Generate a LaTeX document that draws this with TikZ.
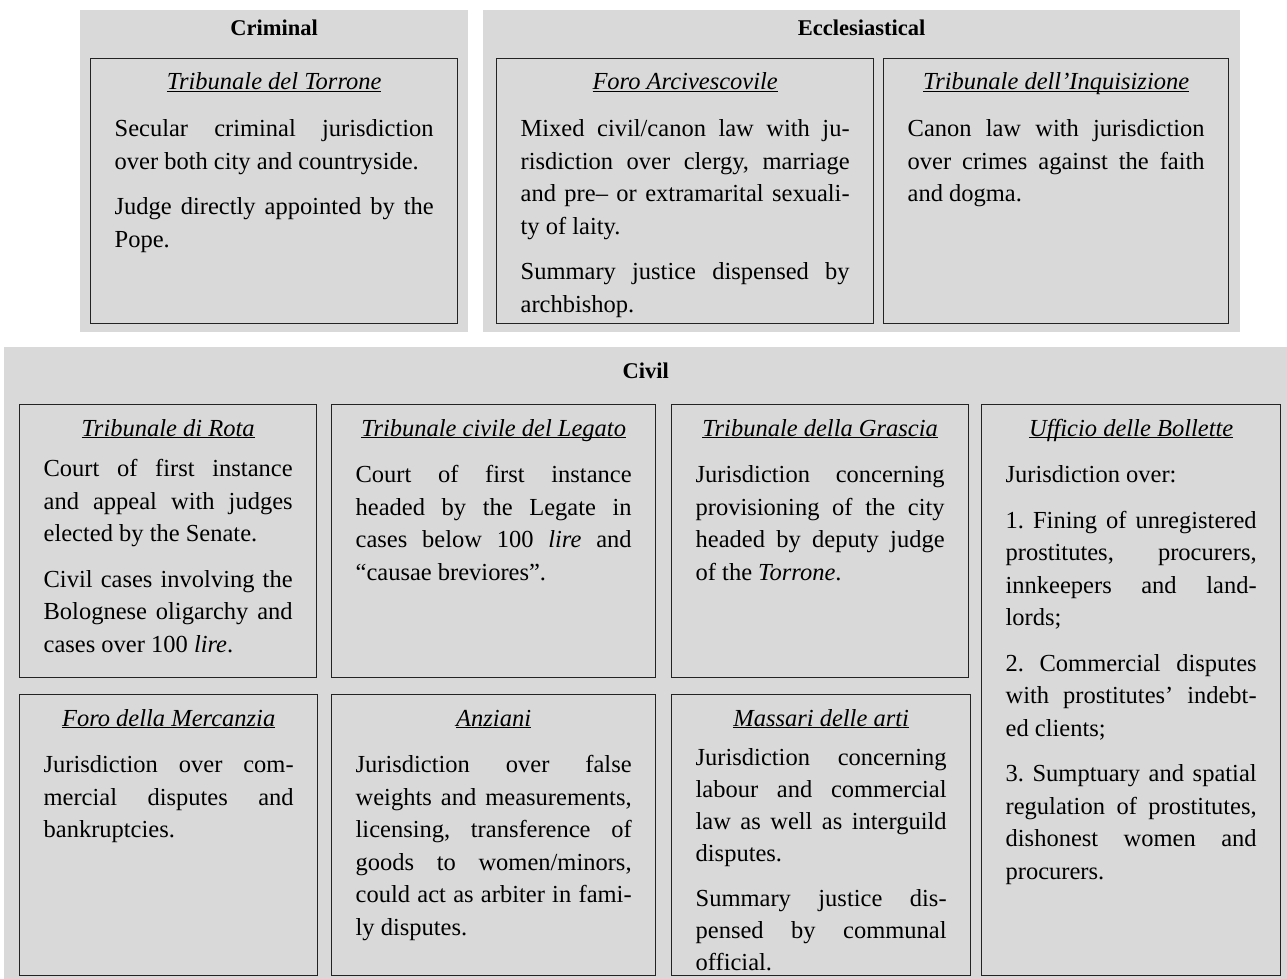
\documentclass[tikz,border=0pt]{standalone}
\usepackage{fontspec}
\setmainfont{Liberation Serif}
\usetikzlibrary{positioning}
\definecolor{panelgray}{RGB}{217,217,217}
\definecolor{boxline}{RGB}{35,35,35}
\hyphenpenalty=10000
\tolerance=10000
\hbadness=10000
\frenchspacing
\newcommand{\pargap}{\par\vspace{13pt}}
\newcommand{\courtname}[1]{\underline{\smash{\textit{#1}}}}

\begin{document}
\begin{tikzpicture}[x=1pt,y=-1pt,
	panelbg/.style={fill=panelgray, inner sep=0pt, anchor=north west},
	courtbox/.style={draw=boxline, line width=1.3pt, fill=panelgray, inner sep=0pt, anchor=north west},
	panelhead/.style={font=\fontsize{22.5}{26}\selectfont\bfseries, inner sep=0pt},
	courttitle/.style={font=\fontsize{24.5}{30}\selectfont, inner sep=0pt},
	courttext/.style={font=\fontsize{24.5}{32.5}\selectfont, align=justify, inner sep=0pt}
	]
	\useasboundingbox (0,0) rectangle (1287,979);
	% panels
	\node[panelbg, minimum width=388, minimum height=322] (crim) at (80,10) {};
	\node[panelbg, minimum width=757, minimum height=322] (eccl) at (483,10) {};
	\node[panelbg, minimum width=1283, minimum height=632] (civ) at (4,347) {};
	\node[panelhead, below=26pt of crim.north, anchor=base] (crimH) {Criminal};
	\node[panelhead, below=26pt of eccl.north, anchor=base] (ecclH) {Ecclesiastical};
	\node[panelhead, below=31pt of civ.north, anchor=base] (civH) {Civil};
	% courts
	\node[courtbox, minimum width=367, minimum height=265] (torrone) at (90,58) {};
	\node[courtbox, minimum width=377, minimum height=265] (foro) at (496,58) {};
	\node[courtbox, minimum width=345, minimum height=265] (inqui) at (883,58) {};
	\node[courtbox, minimum width=297, minimum height=273] (rota) at (19,404) {};
	\node[courtbox, minimum width=324, minimum height=273] (legato) at (331,404) {};
	\node[courtbox, minimum width=297, minimum height=273] (grascia) at (671,404) {};
	\node[courtbox, minimum width=299, minimum height=571] (bollette) at (981,404) {};
	\node[courtbox, minimum width=298, minimum height=281] (mercanzia) at (19,694) {};
	\node[courtbox, minimum width=324, minimum height=281] (anziani) at (331,694) {};
	\node[courtbox, minimum width=299, minimum height=281] (massari) at (671,694) {};
	% titles
	\foreach \crt/\crtname in {torrone/Tribunale del Torrone, foro/Foro Arcivescovile,
		inqui/Tribunale dell’Inquisizione, rota/Tribunale di Rota,
		legato/Tribunale civile del Legato, grascia/Tribunale della Grascia,
		bollette/Ufficio delle Bollette, mercanzia/Foro della Mercanzia,
		anziani/Anziani, massari/Massari delle arti}
		\node[courttitle, below=32pt of \crt.north, anchor=base] (\crt T) {\courtname{\crtname}};
	% descriptions
	\node[courttext, text width=319pt, below=56pt of torrone.north] (torroneD)
		{\strut Secular criminal jurisdiction\linebreak over both city and countryside.\pargap
		Judge directly appointed by the\linebreak Pope.};
	\node[courttext, text width=329pt, below=56pt of foro.north] (foroD)
		{\strut Mixed civil/canon law with ju-\linebreak risdiction over clergy, marriage\linebreak
		and pre– or extramarital sexuali-\linebreak ty of laity.\pargap
		Summary justice dispensed by\linebreak archbishop.};
	\node[courttext, text width=297pt, below=56pt of inqui.north] (inquiD)
		{\strut Canon law with jurisdiction\linebreak over crimes against the faith\linebreak and dogma.};
	\node[courttext, text width=249pt, below=50pt of rota.north] (rotaD)
		{\strut Court of first instance\linebreak and appeal with judges\linebreak elected by the Senate.\pargap
		Civil cases involving the\linebreak Bolognese oligarchy and\linebreak cases over 100 \textit{lire}.};
	\node[courttext, text width=276pt, below=56pt of legato.north] (legatoD)
		{\strut Court of first instance\linebreak headed by the Legate in\linebreak
		cases below 100 \textit{lire} and\linebreak “causae breviores”.};
	\node[courttext, text width=249pt, below=56pt of grascia.north] (grasciaD)
		{\strut Jurisdiction concerning\linebreak provisioning of the city\linebreak
		headed by deputy judge\linebreak of the \textit{Torrone}.};
	\node[courttext, text width=251pt, below=56pt of bollette.north] (bolletteD)
		{\strut Jurisdiction over:\pargap
		1. Fining of unregistered\linebreak prostitutes, procurers,\linebreak innkeepers and land-\linebreak lords;\pargap
		2. Commercial disputes\linebreak with prostitutes’ indebt-\linebreak ed clients;\pargap
		3. Sumptuary and spatial\linebreak regulation of prostitutes,\linebreak dishonest women and\linebreak procurers.};
	\node[courttext, text width=250pt, below=56pt of mercanzia.north] (mercanziaD)
		{\strut Jurisdiction over com-\linebreak mercial disputes and\linebreak bankruptcies.};
	\node[courttext, text width=276pt, below=56pt of anziani.north] (anzianiD)
		{\strut Jurisdiction over false\linebreak weights and measurements,\linebreak
		licensing, transference of\linebreak goods to women/minors,\linebreak
		could act as arbiter in fami-\linebreak ly disputes.};
	\node[courttext, font=\fontsize{24.5}{32}\selectfont, text width=251pt, below=49pt of massari.north] (massariD)
		{\strut Jurisdiction concerning\linebreak labour and commercial\linebreak
		law as well as interguild\linebreak disputes.\pargap
		Summary justice dis-\linebreak pensed by communal\linebreak official.};
\end{tikzpicture}
\end{document}
